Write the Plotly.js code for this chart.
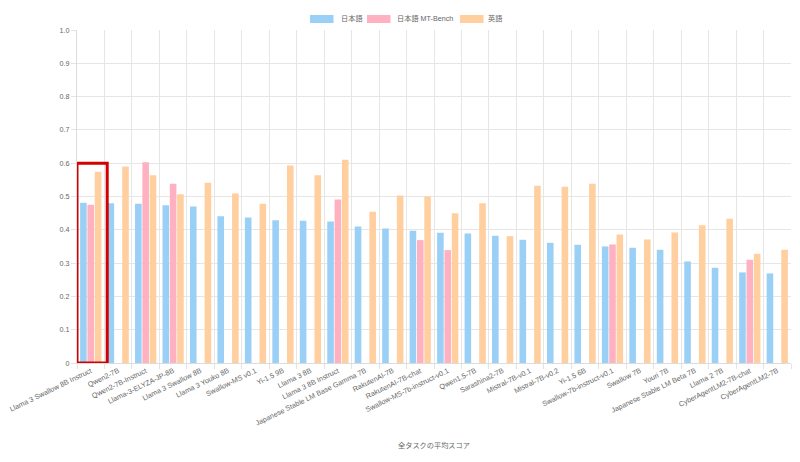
<!DOCTYPE html>
<html>
<head>
<meta charset="utf-8">
<script src="https://cdn.plot.ly/plotly-3.0.1.min.js"></script>
<style>html,body{margin:0;padding:0;background:#fff;}#chart{width:800px;height:462px;}</style>
</head>
<body>
<div id="chart"></div>
<script>
const categories = [
  "Llama 3 Swallow 8B Instruct", "Qwen2-7B", "Qwen2-7B-Instruct", "Llama-3-ELYZA-JP-8B",
  "Llama 3 Swallow 8B", "Llama 3 Youko 8B", "Swallow-MS v0.1", "Yi-1.5 9B", "Llama 3 8B",
  "Llama 3 8B Instruct", "Japanese Stable LM Base Gamma 7B", "RakutenAI-7B", "RakutenAI-7B-chat",
  "Swallow-MS-7b-instruct-v0.1", "Qwen1.5-7B", "Sarashina2-7B", "Mistral-7B-v0.1", "Mistral-7B-v0.2",
  "Yi-1.5 6B", "Swallow-7b-instruct-v0.1", "Swallow 7B", "Youri 7B", "Japanese Stable LM Beta 7B",
  "Llama 2 7B", "CyberAgentLM2-7B-chat", "CyberAgentLM2-7B"
];
const seriesNames = ["日本語", "日本語 MT-Bench", "英語"];
const japanese = [0.481, 0.480, 0.478, 0.474, 0.470, 0.441, 0.437, 0.429, 0.427, 0.425, 0.410, 0.404, 0.397,
  0.391, 0.389, 0.382, 0.370, 0.361, 0.355, 0.350, 0.346, 0.340, 0.305, 0.286, 0.272, 0.269];
const mtBench = [0.475, null, 0.603, 0.538, null, null, null, null, null, 0.491, null, null, 0.369,
  0.339, null, null, null, null, null, 0.356, null, null, null, null, 0.310, null];
const english = [0.574, 0.590, 0.564, 0.507, 0.541, 0.509, 0.478, 0.593, 0.564, 0.610, 0.454, 0.503, 0.500,
  0.450, 0.480, 0.381, 0.532, 0.529, 0.538, 0.386, 0.371, 0.392, 0.414, 0.433, 0.328, 0.340];
const yTickVals = [0, 0.1, 0.2, 0.3, 0.4, 0.5, 0.6, 0.7, 0.8, 0.9, 1.0];
const yTickText = ["0", "0.1", "0.2", "0.3", "0.4", "0.5", "0.6", "0.7", "0.8", "0.9", "1.0"];
const xTitle = "全タスクの平均スコア";
const highlightIndex = 0;
const highlightTop = 0.6;

const colors = ["#9ad0f5", "#ffb1c1", "#ffcf9f"];
const values = [japanese, mtBench, english];
const FONT = "'Liberation Sans', Arial, 'Noto Sans CJK JP', sans-serif";
const FS = 7.2;
const W = 800, H = 462;
const M = {l: 77, r: 9, t: 30, b: 99};
const PW = W - M.l - M.r, PH = H - M.t - M.b;
const px2x = px => (px - M.l) / PW;
const py2y = py => (H - M.b - py) / PH;

// legend layout (pixel positions of swatches and labels)
const legendBoxX = [310, 367, 460];
const legendTextX = [340, 396, 487];
const legendY = 19, boxW = 23.5, boxH = 8;

const traces = values.map((v, i) => ({
  type: "bar",
  name: seriesNames[i],
  x: categories,
  y: v,
  marker: {color: colors[i], line: {width: 0}},
  hoverinfo: "x+y+name"
}));

const shapes = [{
  type: "rect", xref: "x", yref: "y",
  x0: highlightIndex - 0.5, x1: highlightIndex + 0.6,
  y0: 0, y1: highlightTop,
  line: {color: "#d40000", width: 3},
  fillcolor: "rgba(0,0,0,0)"
}];
const annotations = [{
  text: xTitle, xref: "paper", yref: "paper",
  x: 0.5, y: py2y(445.5), xanchor: "center", yanchor: "middle",
  showarrow: false, font: {size: FS, color: "#666"}
}];
seriesNames.forEach((name, i) => {
  shapes.push({
    type: "rect", xref: "paper", yref: "paper",
    x0: px2x(legendBoxX[i]), x1: px2x(legendBoxX[i] + boxW),
    y0: py2y(legendY + boxH / 2), y1: py2y(legendY - boxH / 2),
    line: {width: 0}, fillcolor: colors[i]
  });
  annotations.push({
    text: name, xref: "paper", yref: "paper",
    x: px2x(legendTextX[i]), y: py2y(legendY), xanchor: "left", yanchor: "middle",
    showarrow: false, font: {size: FS, color: "#666"}, borderpad: 0
  });
});

const layout = {
  width: W, height: H,
  margin: M,
  paper_bgcolor: "#fff", plot_bgcolor: "#fff",
  font: {family: FONT, size: FS, color: "#666"},
  barmode: "group",
  bargap: 0.2,
  bargroupgap: 0.1,
  showlegend: false,
  xaxis: {
    type: "category",
    range: [-0.5, categories.length - 0.5],
    tickson: "boundaries",
    ticks: "outside", ticklen: 5, tickcolor: "#e3e3e3",
    showgrid: true, gridcolor: "#e6e6e6",
    showline: true, linecolor: "#dcdcdc",
    tickangle: -26,
    tickfont: {size: FS, color: "#666"},
    automargin: false
  },
  yaxis: {
    range: [0, 1],
    tickvals: yTickVals, ticktext: yTickText,
    ticks: "outside", ticklen: 5, tickcolor: "#e3e3e3",
    showgrid: true, gridcolor: "#e6e6e6",
    showline: true, linecolor: "#dcdcdc",
    zeroline: false,
    tickfont: {size: FS, color: "#666"},
    automargin: false
  },
  annotations: annotations,
  shapes: shapes
};

Plotly.newPlot("chart", traces, layout, {displayModeBar: false, staticPlot: true});
</script>
</body>
</html>
